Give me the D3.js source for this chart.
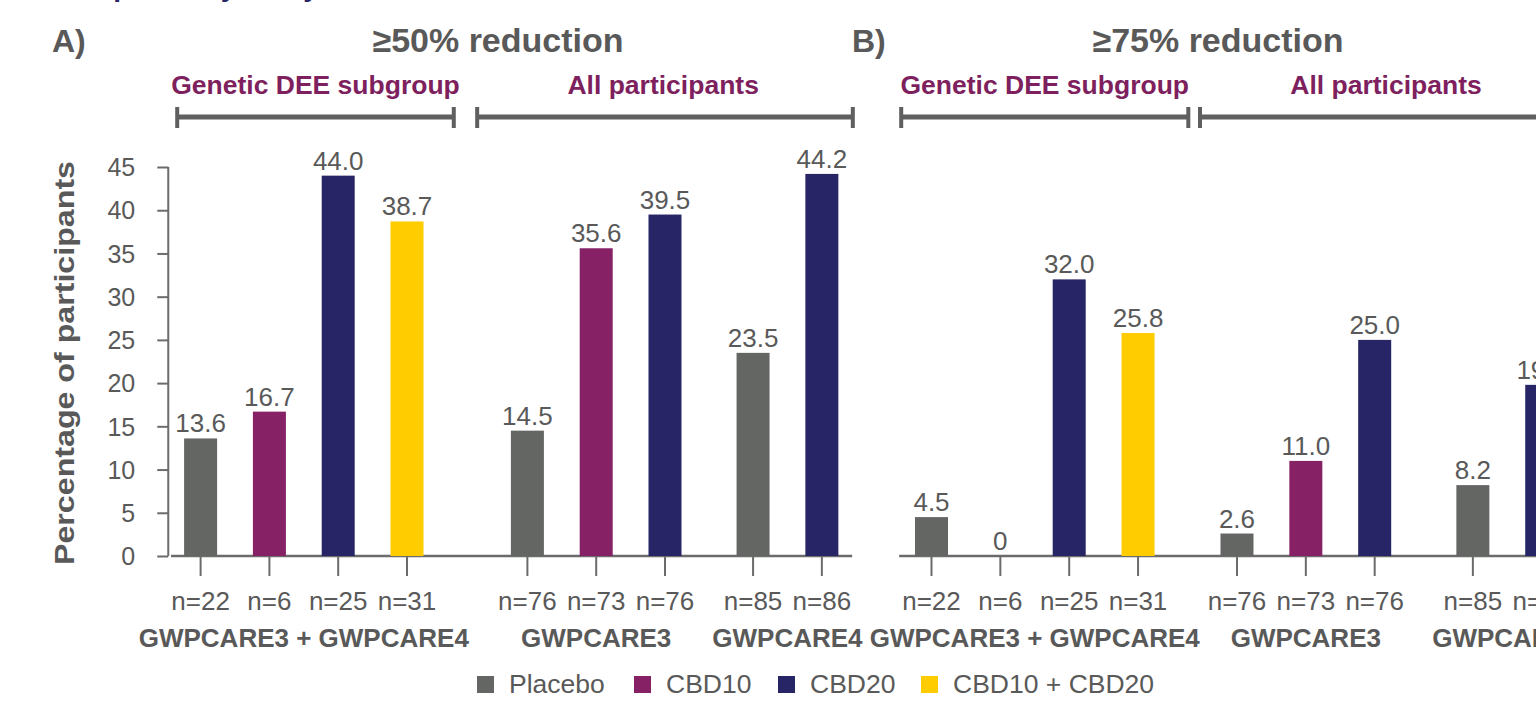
<!DOCTYPE html>
<html>
<head>
<meta charset="utf-8">
<script src="https://cdn.jsdelivr.net/npm/d3@7"></script>
<style>
  html, body { margin: 0; padding: 0; background: #fff; overflow: hidden; }
  svg { display: block; font-family: "Liberation Sans", Arial, sans-serif; }
</style>
</head>
<body>
<div id="chart"></div>
<script>
// Data
var armNames = ["Placebo", "CBD10", "CBD20", "CBD10 + CBD20"];
var armColors = ["#646664", "#862165", "#272565", "#ffcc00"];

var studyLabels = ["GWPCARE3 + GWPCARE4", "GWPCARE3", "GWPCARE4"];
var studyArms = [[0, 1, 2, 3], [0, 1, 2], [0, 2]];        // index into armNames
var nLabels = [["n=22", "n=6", "n=25", "n=31"], ["n=76", "n=73", "n=76"], ["n=85", "n=86"]];

var values50 = [[13.6, 16.7, 44.0, 38.7], [14.5, 35.6, 39.5], [23.5, 44.2]];
var values75 = [[4.5, 0, 32.0, 25.8], [2.6, 11.0, 25.0], [8.2, 19.8]];

var yTicks = [0, 5, 10, 15, 20, 25, 30, 35, 40, 45];
var subgroupLabels = ["Genetic DEE subgroup", "All participants"];

// colours / layout
var textGray = "#595959";
var axisGray = "#6b6b6b";
var purple = "#7e1f5e";
var navy = "#272565";

var W = 1536, H = 701;
var svg = d3.select("#chart").append("svg").attr("width", W).attr("height", H);

// cut-off title at the very top
svg.append("text")
    .attr("x", 62).attr("y", -4)
    .style("font-size", "28px").style("font-weight", "bold").style("fill", navy)
    .text("Response by study");

var y = d3.scaleLinear().domain([0, 45]).range([556, 167]);

var panels = [
    { letter: "A)", title: "≥50% reduction", values: values50, x0: 200.6, step: 68.8,
      starts: [0, 4.75, 8.03], axis: true, axisFrom: -0.43, axisTo: 9.47,
      brackets: [[-0.34, 3.68], [4.02, 9.48]], letterX: 52, titleX: 498 },
    { letter: "B)", title: "≥75% reduction", values: values75, x0: 931.5, step: 68.85,
      starts: [0, 4.437, 7.863], axis: false, axisFrom: -0.47, axisTo: 9.5,
      brackets: [[-0.44, 3.73], [3.9, 9.4]], letterX: 852, titleX: 1218 }
];

var barW = 33;

panels.forEach(function(p){
    var x = d3.scaleLinear().domain([0, 1]).range([p.x0, p.x0 + p.step]);
    var g = svg.append("g");

    // panel letter and title
    g.append("text").attr("x", p.letterX).attr("y", 52)
        .style("font-size", "32px").style("font-weight", "bold").style("fill", textGray)
        .text(p.letter);
    g.append("text").attr("x", p.titleX).attr("y", 52).attr("text-anchor", "middle")
        .style("font-size", "34px").style("font-weight", "bold").style("fill", textGray)
        .text(p.title);

    // subgroup brackets
    p.brackets.forEach(function(b, i){
        var x1 = x(b[0]), x2 = x(b[1]);
        var tx = i == 0 ? (x1 + x2) / 2 : x(b[0]) + 186;
        g.append("text").attr("x", tx).attr("y", 94)
            .attr("text-anchor", "middle")
            .style("font-size", "26.5px").style("font-weight", "bold").style("fill", purple)
            .text(subgroupLabels[i]);
        g.append("line").attr("x1", x1).attr("x2", x2).attr("y1", 117).attr("y2", 117)
            .style("stroke", "#5f5f5f").style("stroke-width", 5);
        [x1, x2].forEach(function(xx){
            g.append("line").attr("x1", xx).attr("x2", xx).attr("y1", 107).attr("y2", 128)
                .style("stroke", "#5f5f5f").style("stroke-width", 4);
        });
    });

    // y axis (panel A only)
    if(p.axis){
        var axisX = x(-0.47);
        var yAxis = d3.axisLeft(y).tickValues(yTicks).tickSize(11).tickPadding(22);
        var ga = g.append("g").attr("transform", "translate(" + axisX + ",0)").call(yAxis);
        ga.select(".domain").attr("d", "M0," + y(45) + "V" + y(0)).style("stroke", axisGray).style("stroke-width", 2);
        ga.selectAll(".tick line").style("stroke", axisGray).style("stroke-width", 2);
        ga.selectAll(".tick text").style("font-size", "25px").style("fill", textGray)
            .style("font-family", "'Liberation Sans', Arial, sans-serif").attr("dy", "0.35em");

        g.append("text")
            .attr("transform", "translate(74,363) rotate(-90)")
            .attr("text-anchor", "middle")
            .attr("textLength", 404).attr("lengthAdjust", "spacingAndGlyphs")
            .style("font-size", "27px").style("font-weight", "bold").style("fill", textGray)
            .text("Percentage of participants");
    }

    // baseline
    g.append("line").attr("x1", x(p.axisFrom)).attr("x2", x(p.axisTo))
        .attr("y1", y(0)).attr("y2", y(0))
        .style("stroke", axisGray).style("stroke-width", 2.5);

    // bars by study
    studyLabels.forEach(function(label, s){
        var vals = p.values[s];
        var slots = vals.map(function(v, k){ return p.starts[s] + k; });

        vals.forEach(function(v, k){
            var cx = x(slots[k]);
            var arm = studyArms[s][k];
            if(v > 0){
                g.append("rect")
                    .attr("x", cx - barW / 2).attr("width", barW)
                    .attr("y", y(v)).attr("height", y(0) - y(v))
                    .style("fill", armColors[arm]);
            }
            g.append("text").attr("x", cx).attr("y", y(v) - 6).attr("text-anchor", "middle")
                .style("font-size", "26px").style("fill", textGray)
                .text(v === 0 ? "0" : v.toFixed(1));
            // tick below axis
            g.append("line").attr("x1", cx).attr("x2", cx).attr("y1", y(0)).attr("y2", 576)
                .style("stroke", axisGray).style("stroke-width", 2);
            g.append("text").attr("x", cx).attr("y", 610).attr("text-anchor", "middle")
                .style("font-size", "26px").style("fill", textGray)
                .text(nLabels[s][k]);
        });

        var mid = (x(slots[0]) + x(slots[slots.length - 1])) / 2;
        g.append("text").attr("x", mid).attr("y", 647).attr("text-anchor", "middle")
            .style("font-size", "26px").style("font-weight", "bold").style("fill", textGray)
            .text(label);
    });
});

// legend
var legendX = [477, 634, 778, 921];
var lg = svg.append("g");
armNames.forEach(function(name, i){
    lg.append("rect").attr("x", legendX[i]).attr("y", 676).attr("width", 17).attr("height", 17)
        .style("fill", armColors[i]);
    lg.append("text").attr("x", legendX[i] + 32).attr("y", 693)
        .style("font-size", "26.5px").style("fill", textGray)
        .text(name);
});
</script>
</body>
</html>
